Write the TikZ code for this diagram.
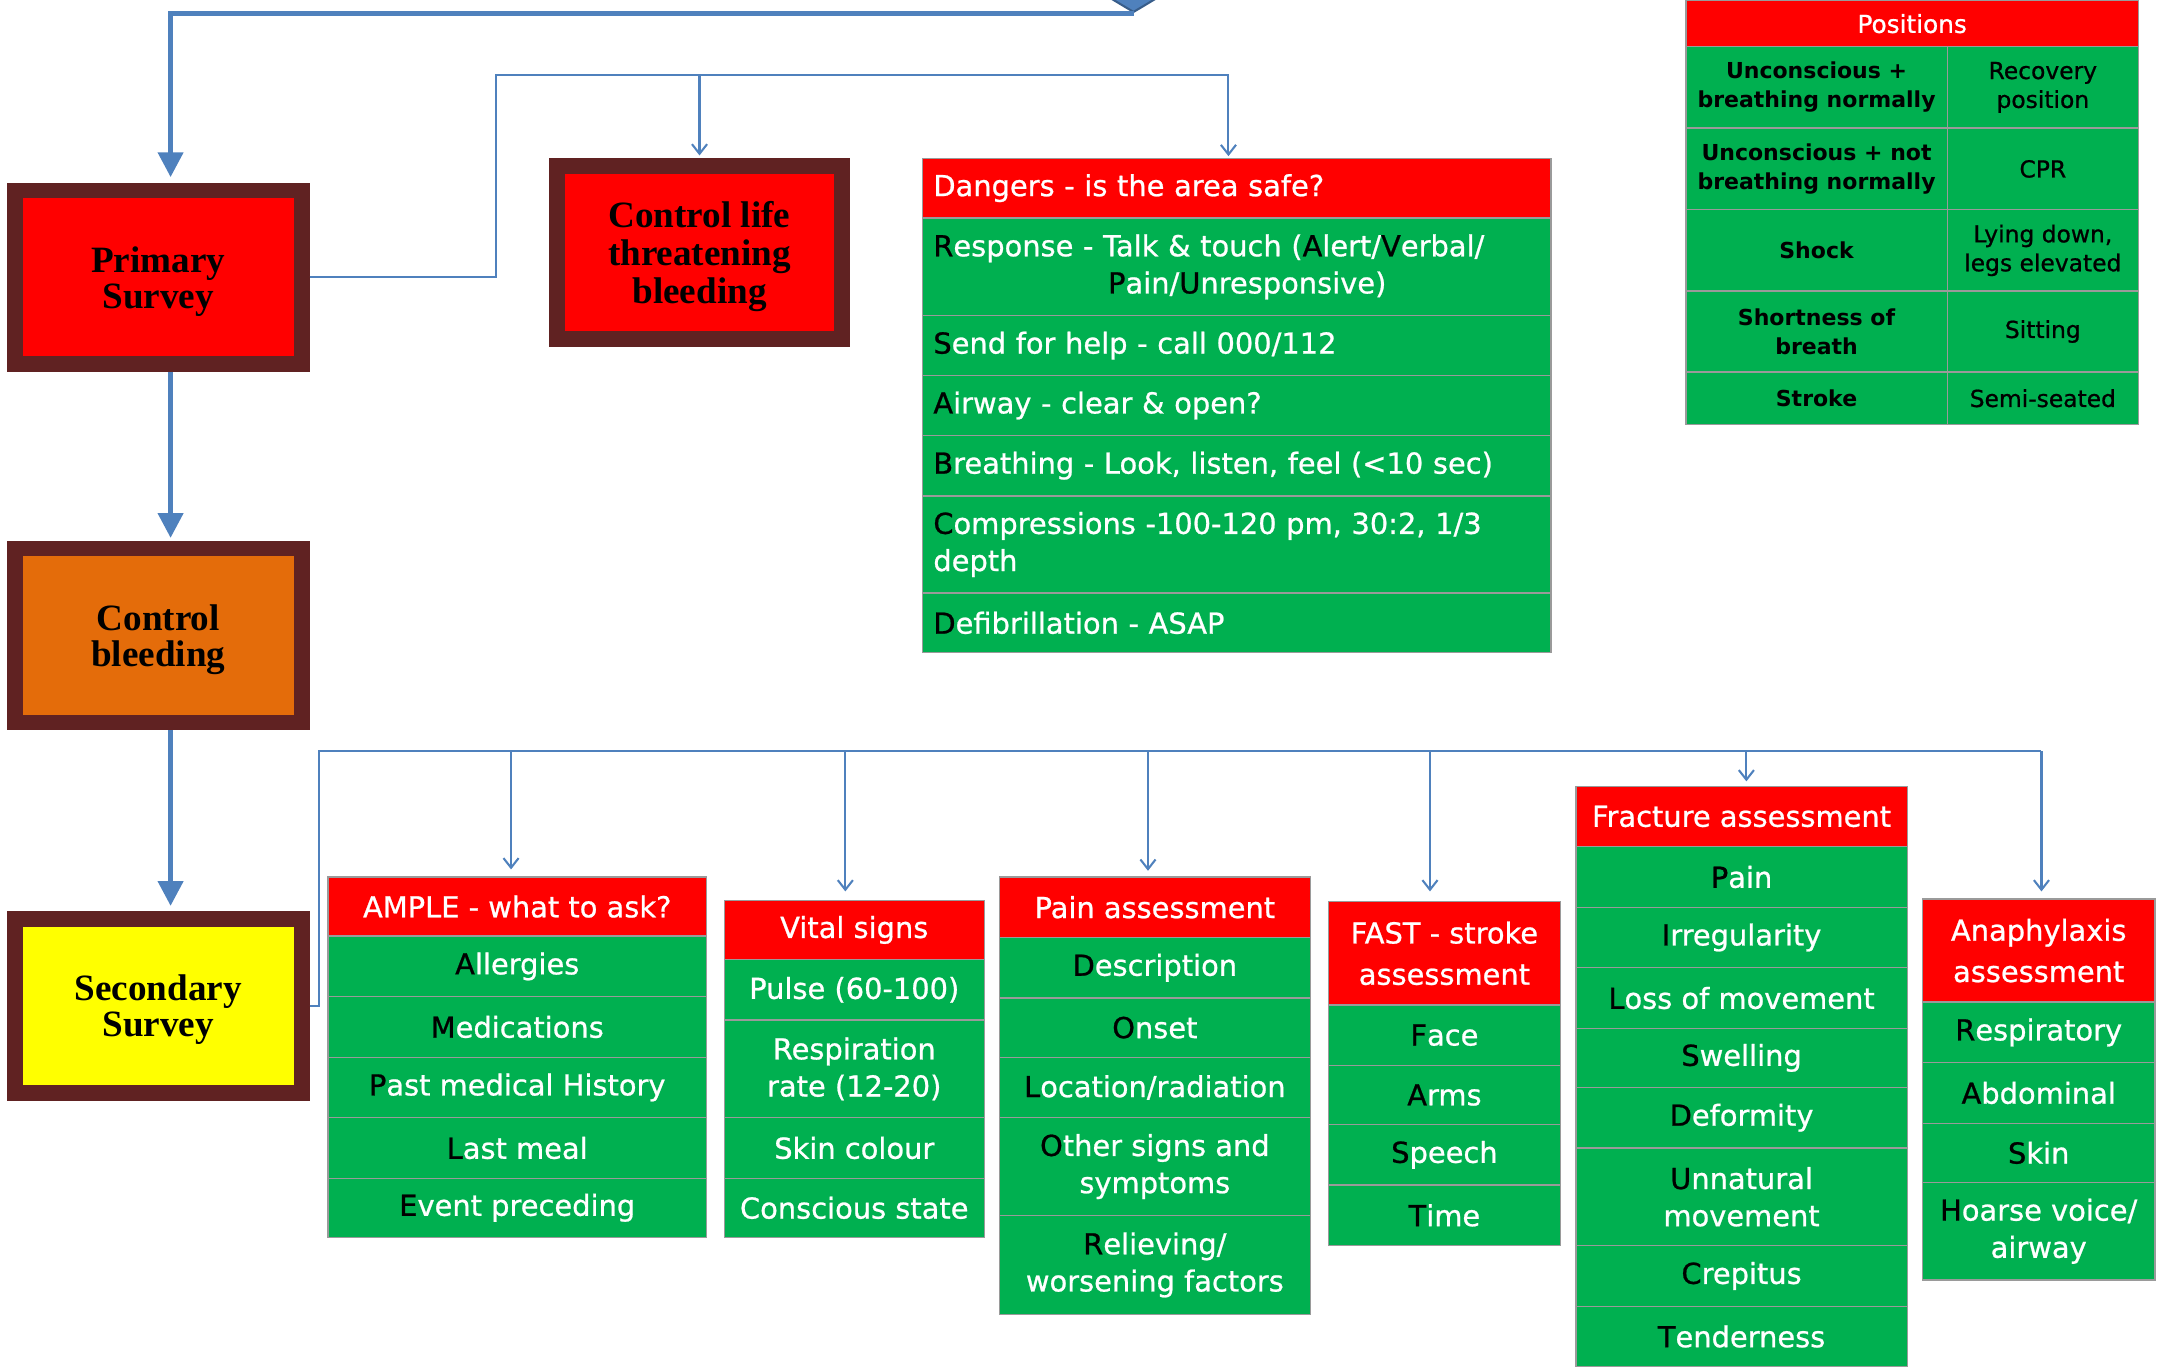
\documentclass[tikz,border=0pt]{standalone}
\usepackage{fontspec}
\setmainfont{DejaVu Sans}
\newfontfamily\tah{DejaVu Sans}[FakeBold=0.8]
\newfontfamily\tnr{Liberation Serif}
\usetikzlibrary{arrows.meta,shapes.geometric}
\definecolor{redC}{HTML}{FF0000}
\definecolor{greenC}{HTML}{00B050}
\definecolor{brownC}{HTML}{602222}
\definecolor{orangeC}{HTML}{E46C0A}
\definecolor{yellowC}{HTML}{FFFF00}
\definecolor{lineC}{HTML}{4F81BD}
\definecolor{lineD}{HTML}{385D8A}
\definecolor{gridC}{HTML}{9A9A9A}
\newcommand\blk[1]{\textcolor{black}{#1}}
\newcommand\cellnode[6]{\node[#5, minimum width=#3pt, minimum height=#4pt] (#1) at (#2) {#6};}
\tikzset{
  mainbox/.style={draw=brownC, line width=11.5pt, inner sep=0pt},
  boxtext/.style={font=\tnr\bfseries\fontsize{27}{26}\selectfont, align=center, text=black, inner sep=0pt},
  tcell/.style={draw=gridC, line width=1pt, inner sep=0pt, anchor=north west, font=\tah\fontsize{21}{27}\selectfont, text=white},
  hc/.style={tcell, fill=redC, align=center},
  hh/.style={hc, font=\tah\fontsize{21}{30}\selectfont},
  gc/.style={tcell, fill=greenC, align=center},
  hl/.style={tcell, fill=redC, align=left, text width=441pt, inner xsep=8pt},
  gl/.style={tcell, fill=greenC, align=left, text width=441pt, inner xsep=8pt},
  ph/.style={tcell, fill=redC, align=center, font=\tah\fontsize{18}{21}\selectfont},
  pl/.style={tcell, fill=greenC, align=center, text=black, font=\fontsize{16}{21}\selectfont\bfseries},
  pr/.style={tcell, fill=greenC, align=center, text=black, font=\tah\fontsize{17}{21}\selectfont},
  conn/.style={draw=lineC, line width=1.5pt, -{Straight Barb[length=7pt,width=11pt]}},
  connl/.style={draw=lineC, line width=1.5pt},
  bigarrow/.style={draw=lineC, line width=3.5pt, -{Triangle[length=18pt,width=18pt]}},
}
\begin{document}
\begin{tikzpicture}[x=1pt,y=-1pt]
\path[use as bounding box] (0,0) rectangle (1568,994);
\clip (0,0) rectangle (1568,994);

% ---- main boxes ----
\node[diamond, draw=lineD, fill=lineC, line width=1.5pt, minimum width=100pt, minimum height=60pt, inner sep=0pt] (dec) at (824,-21) {};
\node[mainbox, fill=redC, minimum width=208.5pt, minimum height=126pt] (prim) at (115,201.5) {};
\node[boxtext] (primT) at ([yshift=-3pt]prim.center) {Primary\\Survey};
\node[mainbox, fill=orangeC, minimum width=208.5pt, minimum height=126.5pt] (cbl) at (115,462) {};
\node[boxtext] (cblT) at ([yshift=-3pt]cbl.center) {Control\\bleeding};
\node[mainbox, fill=yellowC, minimum width=208.5pt, minimum height=126.5pt] (sec) at (115,731.5) {};
\node[boxtext] (secT) at ([yshift=-2.5pt]sec.center) {Secondary\\Survey};
\node[mainbox, fill=redC, minimum width=207.5pt, minimum height=125.5pt] (ctl) at (508.5,183.5) {};
\node[boxtext, font=\tnr\bfseries\fontsize{27}{27.5}\selectfont] (ctlT) at ([yshift=-3pt]ctl.center) {Control life\\threatening\\bleeding};

% ---- DRSABCD table ----
\cellnode{dng}{670,114.5}{457}{43.5}{hl}{Dangers - is the area safe?}
\cellnode{dR}{670,158}{457}{71}{gl}{\blk{R}esponse - Talk \& touch (\blk{A}lert/\blk{V}erbal/\\\hspace*{127pt}\blk{P}ain/\blk{U}nresponsive)}
\cellnode{dS}{670,229}{457}{43.5}{gl}{\blk{S}end for help - call 000/112}
\cellnode{dA}{670,272.5}{457}{43.5}{gl}{\blk{A}irway - clear \& open?}
\cellnode{dB}{670,316}{457}{44}{gl}{\blk{B}reathing - Look, listen, feel (<10 sec)}
\cellnode{dC}{670,360}{457}{70.6}{gl}{\blk{C}ompressions -100-120 pm, 30:2, 1/3\\depth}
\cellnode{dD}{670,430.6}{457}{43.4}{gl}{\blk{D}efibrillation - ASAP}

% ---- Positions table ----
\cellnode{pos}{1225,0}{329}{33.4}{ph}{Positions}
\cellnode{p1a}{1225,33.4}{190}{59.2}{pl}{Unconscious +\\breathing normally}
\cellnode{p1b}{1415,33.4}{139}{59.2}{pr}{Recovery\\position}
\cellnode{p2a}{1225,92.6}{190}{59.4}{pl}{Unconscious + not\\breathing normally}
\cellnode{p2b}{1415,92.6}{139}{59.4}{pr}{CPR}
\cellnode{p3a}{1225,152}{190}{59}{pl}{Shock}
\cellnode{p3b}{1415,152}{139}{59}{pr}{Lying down,\\legs elevated}
\cellnode{p4a}{1225,211}{190}{59}{pl}{Shortness of\\breath}
\cellnode{p4b}{1415,211}{139}{59}{pr}{Sitting}
\cellnode{p5a}{1225,270}{190}{38}{pl}{Stroke}
\cellnode{p5b}{1415,270}{139}{38}{pr}{Semi-seated}

% ---- AMPLE ----
\cellnode{amp}{238,637}{275}{43}{hc}{AMPLE - what to ask?}
\cellnode{am1}{238,680}{275}{44}{gc}{\blk{A}llergies}
\cellnode{am2}{238,724}{275}{44}{gc}{\blk{M}edications}
\cellnode{am3}{238,768}{275}{44}{gc}{\blk{P}ast medical History}
\cellnode{am4}{238,812}{275}{44}{gc}{\blk{L}ast meal}
\cellnode{am5}{238,856}{275}{43}{gc}{\blk{E}vent preceding}

% ---- Vital signs ----
\cellnode{vit}{526,654}{189}{43}{hc}{Vital signs}
\cellnode{vi1}{526,697}{189}{44}{gc}{Pulse (60-100)}
\cellnode{vi2}{526,741}{189}{71}{gc}{Respiration\\rate (12-20)}
\cellnode{vi3}{526,812}{189}{44}{gc}{Skin colour}
\cellnode{vi4}{526,856}{189}{43}{gc}{Conscious state}

% ---- Pain ----
\cellnode{pain}{726,637}{226}{44}{hc}{Pain assessment}
\cellnode{pa1}{726,681}{226}{44}{gc}{\blk{D}escription}
\cellnode{pa2}{726,725}{226}{43}{gc}{\blk{O}nset}
\cellnode{pa3}{726,768}{226}{44}{gc}{\blk{L}ocation/radiation}
\cellnode{pa4}{726,812}{226}{71}{gc}{\blk{O}ther signs and\\symptoms}
\cellnode{pa5}{726,883}{226}{72}{gc}{\blk{R}elieving/\\worsening factors}

% ---- FAST ----
\cellnode{fast}{965,655}{169}{75}{hh}{FAST - stroke\\assessment}
\cellnode{fa1}{965,730}{169}{44}{gc}{\blk{F}ace}
\cellnode{fa2}{965,774}{169}{43}{gc}{\blk{A}rms}
\cellnode{fa3}{965,817}{169}{44}{gc}{\blk{S}peech}
\cellnode{fa4}{965,861}{169}{44}{gc}{\blk{T}ime}

% ---- Fracture ----
\cellnode{frac}{1145,571}{241}{44}{hc}{Fracture assessment}
\cellnode{fr1}{1145,615}{241}{44}{gc}{\blk{P}ain}
\cellnode{fr2}{1145,659}{241}{44}{gc}{\blk{I}rregularity}
\cellnode{fr3}{1145,703}{241}{44}{gc}{\blk{L}oss of movement}
\cellnode{fr4}{1145,747}{241}{43}{gc}{\blk{S}welling}
\cellnode{fr5}{1145,790}{241}{44}{gc}{\blk{D}eformity}
\cellnode{fr6}{1145,834}{241}{71}{gc}{\blk{U}nnatural\\movement}
\cellnode{fr7}{1145,905}{241}{44}{gc}{\blk{C}repitus}
\cellnode{fr8}{1145,949}{241}{44}{gc}{\blk{T}enderness}

% ---- Anaphylaxis ----
\cellnode{ana}{1397,653}{169}{75}{hh}{Anaphylaxis\\assessment}
\cellnode{an1}{1397,728}{169}{44}{gc}{\blk{R}espiratory}
\cellnode{an2}{1397,772}{169}{44}{gc}{\blk{A}bdominal}
\cellnode{an3}{1397,816}{169}{43}{gc}{\blk{S}kin}
\cellnode{an4}{1397,859}{169}{71}{gc}{\blk{H}oarse voice/\\airway}

% ---- connectors ----
\draw[bigarrow, shorten >=4pt] (dec.south) -| ([xshift=9pt]prim.north);
\draw[bigarrow, shorten >=2pt] ([xshift=9pt]prim.south) -- ([xshift=9pt]cbl.north);
\draw[bigarrow, shorten >=4pt] ([xshift=9pt]cbl.south) -- ([xshift=9pt]sec.north);

\coordinate (j1) at (360.5,54.6);
\coordinate (j2) at (893,54.6);
\draw[conn, shorten >=1pt] (prim.east) -| (j1) -- (j2) -- (dng.north -| j2);
\draw[conn, shorten >=2pt] (j1 -| ctl.north) -- (ctl.north);

\coordinate (k0) at (232,546);
\coordinate (kE) at (1484,546);
\draw[connl] (sec.east) -| (k0) -- (kE);
\draw[conn, shorten >=5pt] ([xshift=-4.5pt]amp.north |- k0) -- ([xshift=-4.5pt]amp.north);
\draw[conn, shorten >=6pt] ([xshift=-6.5pt]vit.north |- k0) -- ([xshift=-6.5pt]vit.north);
\draw[conn, shorten >=4pt] ([xshift=-5pt]pain.north |- k0) -- ([xshift=-5pt]pain.north);
\draw[conn, shorten >=7pt] ([xshift=-10.5pt]fast.north |- k0) -- ([xshift=-10.5pt]fast.north);
\draw[conn, shorten >=3pt] ([xshift=3.5pt]frac.north |- k0) -- ([xshift=3.5pt]frac.north);
\draw[conn, shorten >=5pt] (kE) -- (kE |- ana.north);
\end{tikzpicture}
\end{document}
